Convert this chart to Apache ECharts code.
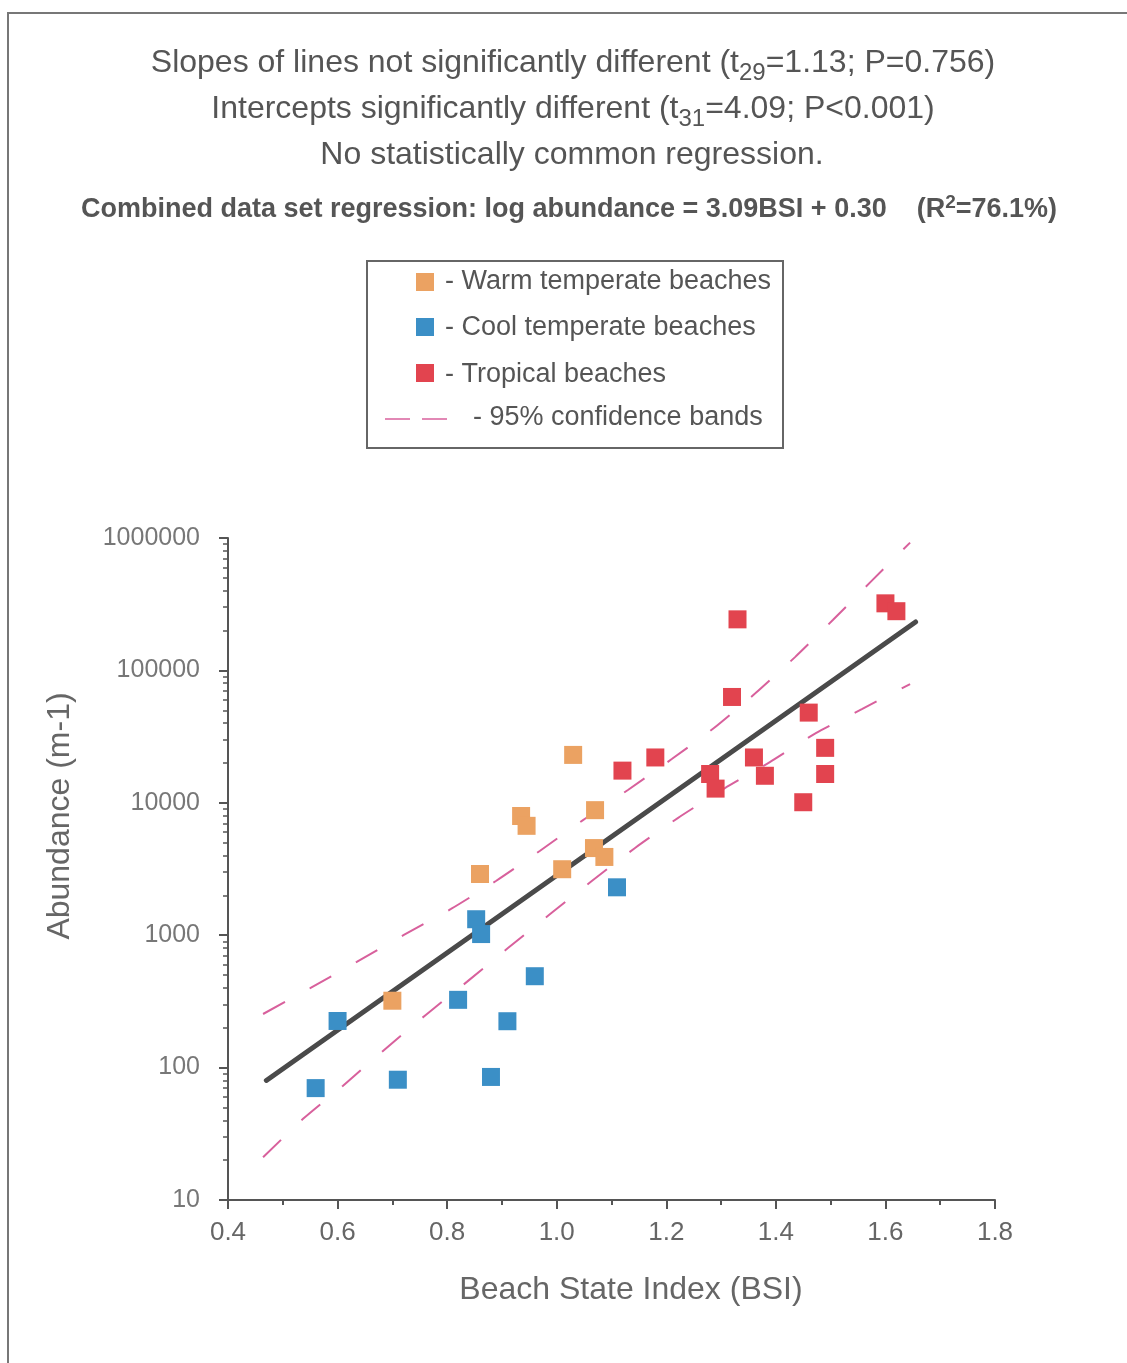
<!DOCTYPE html>
<html>
<head>
<meta charset="utf-8">
<script src="https://cdn.jsdelivr.net/npm/echarts@6/dist/echarts.min.js"></script>
<style>
html,body{margin:0;padding:0;background:#fff;}
#chart{width:1127px;height:1363px;}
</style>
</head>
<body>
<div id="chart"></div>
<script>
// ---- Data ----
const warmX = [0.70, 0.86, 0.935, 0.945, 1.03, 1.07, 1.01, 1.068, 1.087];
const warmY = [320, 2900, 7950, 6700, 23000, 8800, 3150, 4550, 3900];

const coolX = [0.60, 0.56, 0.71, 0.88, 0.91, 0.82, 0.96, 0.853, 0.862, 1.11];
const coolY = [225, 70, 81, 85, 224, 325, 490, 1320, 1020, 2300];

const tropX = [1.33, 1.60, 1.62, 1.32, 1.46, 1.12, 1.18, 1.28, 1.29, 1.36, 1.38, 1.49, 1.49, 1.45];
const tropY = [243000, 321000, 280000, 63000, 48000, 17500, 22000, 16500, 12800, 22000, 16000, 26000, 16500, 10100];

// regression line end points
const regX = [0.47, 1.655];
const regY = [80, 232000];

// 95% confidence bands
const upX = [0.464, 0.550, 0.635, 0.721, 0.807, 0.889, 0.969, 1.048, 1.130, 1.210, 1.287, 1.363, 1.435, 1.504, 1.573, 1.645];
const upY = [254, 399, 628, 1005, 1578, 2566, 4325, 7400, 12500, 21400, 36700, 67400, 126000, 240000, 466000, 923000];
const loX = [0.464, 0.537, 0.610, 0.685, 0.761, 0.836, 0.911, 0.988, 1.064, 1.143, 1.221, 1.307, 1.389, 1.473, 1.557, 1.645];
const loY = [21, 41, 73, 136, 250, 444, 800, 1445, 2566, 4560, 7670, 12900, 20300, 33600, 51000, 78900];

// axis ticks
const xTicks = ['0.4', '0.6', '0.8', '1.0', '1.2', '1.4', '1.6', '1.8'];
const yTicks = ['10', '100', '1000', '10000', '100000', '1000000'];

const zip = (xs, ys) => xs.map((x, i) => [x, ys[i]]);

// minor log ticks (2..9 within each decade)
const minorVals = [];
for (let i = 0; i < yTicks.length - 1; i++) {
  const d = Number(yTicks[i]);
  for (let m = 2; m <= 9; m++) minorVals.push(d * m);
}

const FONT = 'Liberation Sans, Arial, sans-serif';
const TXT = '#555';
const WARM = '#eba262';
const COOL = '#3b8fc6';
const TROP = '#e2444f';
const BAND = '#d8609c';

const chart = echarts.init(document.getElementById('chart'));

const titleRich = {
  m: { fontSize: 32, fontFamily: FONT, fill: TXT, lineHeight: 44, verticalAlign: 'middle' },
  s: { fontSize: 24, fontFamily: FONT, fill: TXT, lineHeight: 24, verticalAlign: 'bottom' }
};

const option = {
  animation: false,
  backgroundColor: '#fff',
  grid: { left: 228, top: 538, width: 767, height: 662, containLabel: false },
  xAxis: {
    type: 'value',
    min: Number(xTicks[0]),
    max: Number(xTicks[xTicks.length - 1]),
    interval: 0.2,
    axisLine: { lineStyle: { color: '#555', width: 2 } },
    axisTick: { length: 9, lineStyle: { color: '#555', width: 2 } },
    minorTick: { show: true, splitNumber: 2, length: 5, lineStyle: { color: '#555', width: 2 } },
    splitLine: { show: false },
    axisLabel: { margin: 20, fontSize: 26, color: '#666', fontFamily: FONT, formatter: v => v.toFixed(1) }
  },
  yAxis: [
    {
      type: 'log', logBase: 10,
      min: Number(yTicks[0]), max: Number(yTicks[yTicks.length - 1]),
      axisLine: { show: true, lineStyle: { color: '#555', width: 2 } },
      axisTick: { show: true, length: 9, lineStyle: { color: '#555', width: 2 } },
      splitLine: { show: false },
      axisLabel: { margin: 28, fontSize: 25, color: '#777', fontFamily: FONT, formatter: v => String(Math.round(v)) }
    },
    {
      type: 'log', logBase: 10, position: 'left',
      min: Number(yTicks[0]), max: Number(yTicks[yTicks.length - 1]),
      axisLine: { show: false },
      axisTick: { show: true, length: 5, customValues: minorVals, lineStyle: { color: '#555', width: 1.5 } },
      axisLabel: { show: false },
      splitLine: { show: false }
    }
  ],
  series: [
    { type: 'line', data: zip(upX, upY), symbol: 'none', smooth: 0.2, z: 2,
      lineStyle: { color: BAND, width: 2, type: [25, 28] } },
    { type: 'line', data: zip(loX, loY), symbol: 'none', smooth: 0.2, z: 2,
      lineStyle: { color: BAND, width: 2, type: [25, 28] } },
    { type: 'line', data: zip(regX, regY), symbol: 'none', z: 3,
      lineStyle: { color: '#4a4a4a', width: 5, cap: 'round' } },
    { type: 'scatter', data: zip(coolX, coolY), symbol: 'rect', symbolSize: 18, z: 4,
      itemStyle: { color: COOL, opacity: 1 } },
    { type: 'scatter', data: zip(warmX, warmY), symbol: 'rect', symbolSize: 18, z: 4,
      itemStyle: { color: WARM, opacity: 1 } },
    { type: 'scatter', data: zip(tropX, tropY), symbol: 'rect', symbolSize: 18, z: 4,
      itemStyle: { color: TROP, opacity: 1 } }
  ],
  graphic: [
    // outer frame
    { type: 'rect', shape: { x: 8, y: 13, width: 1140, height: 1380 }, silent: true,
      style: { fill: null, stroke: '#777', lineWidth: 2 } },
    // titles
    { type: 'text', x: 573, y: 63, style: {
        text: '{m|Slopes of lines not significantly different (t}{s|29}{m|=1.13; P=0.756)}',
        rich: titleRich, align: 'center', verticalAlign: 'middle' } },
    { type: 'text', x: 573, y: 109, style: {
        text: '{m|Intercepts significantly different (t}{s|31}{m|=4.09; P<0.001)}',
        rich: titleRich, align: 'center', verticalAlign: 'middle' } },
    { type: 'text', x: 572, y: 155, style: {
        text: 'No statistically common regression.',
        font: '32px ' + FONT, fill: TXT, align: 'center', verticalAlign: 'middle' } },
    { type: 'text', x: 569, y: 210, style: {
        text: '{b|Combined data set regression: log abundance = 3.09BSI + 0.30    (R}{p|2}{b|=76.1%)}',
        rich: {
          b: { fontSize: 27, fontWeight: 'bold', fontFamily: FONT, fill: TXT, lineHeight: 34, verticalAlign: 'middle' },
          p: { fontSize: 19, fontWeight: 'bold', fontFamily: FONT, fill: TXT, lineHeight: 19, verticalAlign: 'top' }
        },
        align: 'center', verticalAlign: 'middle' } },
    // legend box
    { type: 'rect', shape: { x: 367, y: 261, width: 416, height: 187 },
      style: { fill: '#fff', stroke: '#666', lineWidth: 2 } },
    { type: 'rect', shape: { x: 416, y: 273, width: 18, height: 18 }, style: { fill: WARM } },
    { type: 'rect', shape: { x: 416, y: 318, width: 18, height: 18 }, style: { fill: COOL } },
    { type: 'rect', shape: { x: 416, y: 364, width: 18, height: 18 }, style: { fill: TROP } },
    { type: 'line', shape: { x1: 385, y1: 419, x2: 410, y2: 419 }, style: { stroke: BAND, lineWidth: 1.5 } },
    { type: 'line', shape: { x1: 422, y1: 419, x2: 447, y2: 419 }, style: { stroke: BAND, lineWidth: 1.5 } },
    { type: 'text', x: 445, y: 282, style: { text: '- Warm temperate beaches', font: '27px ' + FONT, fill: TXT, verticalAlign: 'middle' } },
    { type: 'text', x: 445, y: 328, style: { text: '- Cool temperate beaches', font: '27px ' + FONT, fill: TXT, verticalAlign: 'middle' } },
    { type: 'text', x: 445, y: 375, style: { text: '- Tropical beaches', font: '27px ' + FONT, fill: TXT, verticalAlign: 'middle' } },
    { type: 'text', x: 473, y: 418, style: { text: '- 95% confidence bands', font: '27px ' + FONT, fill: TXT, verticalAlign: 'middle' } },
    // axis titles
    { type: 'text', x: 631, y: 1290, style: { text: 'Beach State Index (BSI)', font: '32px ' + FONT, fill: '#666', align: 'center', verticalAlign: 'middle' } },
    { type: 'text', x: 60, y: 816, rotation: Math.PI / 2, style: { text: 'Abundance (m-1)', font: '32px ' + FONT, fill: '#666', align: 'center', verticalAlign: 'middle' } }
  ]
};

chart.setOption(option);
</script>
</body>
</html>
